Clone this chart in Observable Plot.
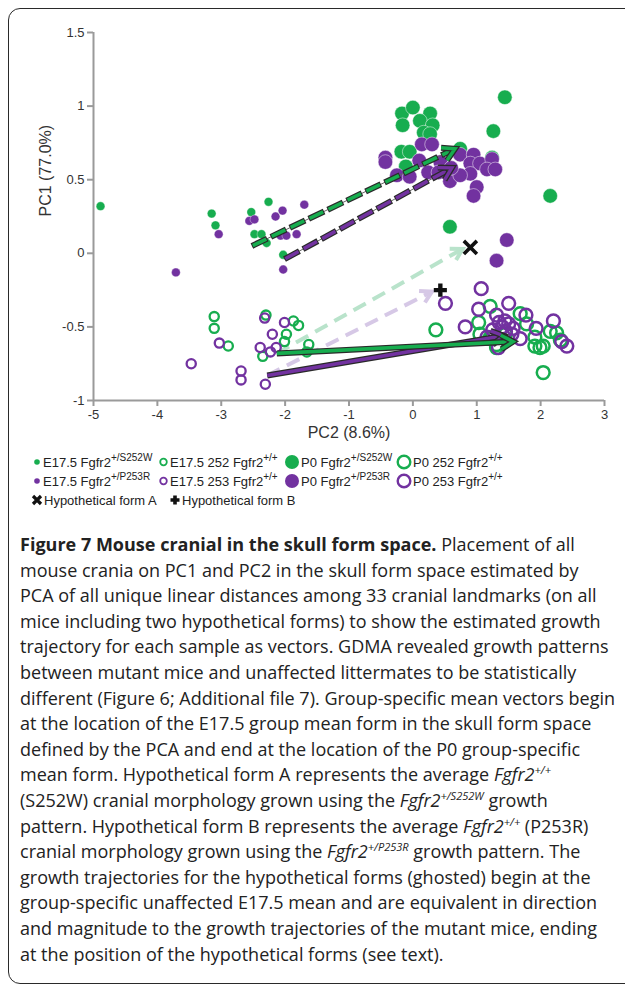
<!DOCTYPE html>
<html><head><meta charset="utf-8">
<script src="https://cdn.jsdelivr.net/npm/d3@7"></script>
<script src="https://cdn.jsdelivr.net/npm/@observablehq/plot@0.6"></script>
<style>
html,body{margin:0;padding:0;background:#fff;width:625px;height:987px;overflow:hidden;position:relative;}
#frame{position:absolute;left:8px;top:8px;width:680px;height:976px;border:1.6px solid #2a2a2a;border-radius:12px;box-sizing:border-box;}
#chart{position:absolute;left:0;top:0;}
#legend{position:absolute;left:0;top:0;font-family:"Liberation Sans",Arial,sans-serif;font-size:13px;color:#222;}
.item{position:absolute;white-space:nowrap;display:flex;align-items:center;height:18px;}
.item sup{font-size:10px;vertical-align:6px;line-height:0;}
.item svg{margin-right:1px;overflow:visible;}
#caption{position:absolute;left:20px;top:532px;font-family:"Open Sans",sans-serif;font-size:18px;line-height:25.6px;color:#222;white-space:nowrap;}
#caption sup{font-size:11px;vertical-align:7px;line-height:0;}
</style></head>
<body>
<div id="frame"></div>
<div id="chart"></div>
<div id="legend"></div>
<div id="caption"></div>
<script>
// ---------------- data ----------------
const xTicks = [-5, -4, -3, -2, -1, 0, 1, 2, 3];
const yTicks = [-1, -0.5, 0, 0.5, 1, 1.5];
const xLabel = "PC2 (8.6%)";
const yLabel = "PC1 (77.0%)";

// E17.5 Fgfr2 +/S252W (small filled green)
const e175S252W_x = [-4.89, -3.15, -3.09, -2.53, -2.26, -2.48, -2.37, -2.29, -2.03];
const e175S252W_y = [0.32, 0.27, 0.19, 0.28, 0.35, 0.13, 0.13, 0.07, -0.01];
// E17.5 Fgfr2 +/P253R (small filled purple)
const e175P253R_x = [-3.04, -2.56, -2.48, -2.04, -2.15, -1.70, -2.07, -1.98, -1.82, -3.71, -2.03];
const e175P253R_y = [0.13, 0.22, 0.23, 0.29, 0.25, 0.33, 0.12, 0.12, 0.13, -0.13, -0.11];
// E17.5 252 Fgfr2 +/+ (small open green)
const e175wt252_x = [-3.11, -3.11, -2.89, -2.30, -1.87, -1.79, -1.98, -2.01, -2.35, -1.63, -1.66];
const e175wt252_y = [-0.43, -0.51, -0.63, -0.42, -0.46, -0.49, -0.55, -0.60, -0.70, -0.62, -0.67];
// E17.5 253 Fgfr2 +/+ (small open purple)
const e175wt253_x = [-3.03, -3.47, -2.69, -2.69, -2.32, -2.01, -2.20, -2.39, -2.23, -2.14, -2.31];
const e175wt253_y = [-0.61, -0.75, -0.80, -0.86, -0.44, -0.47, -0.55, -0.64, -0.67, -0.64, -0.89];
// P0 Fgfr2 +/S252W (large filled green)
const p0S252W_x = [-0.17, 0.0, 0.27, 0.11, -0.16, 0.31, 0.17, 0.27, -0.18, -0.05, -0.11, 0.74, 1.24, 1.26, 1.44, 2.15, 0.58];
const p0S252W_y = [0.95, 0.99, 0.95, 0.90, 0.87, 0.87, 0.82, 0.81, 0.69, 0.69, 0.59, 0.71, 0.65, 0.83, 1.06, 0.39, 0.18];
// P0 Fgfr2 +/P253R (large filled purple)
const p0P253R_x = [-0.43, -0.43, 0.14, 0.30, 0.10, 0.43, -0.25, -0.05, 0.24, 0.58, 0.74, 0.95, 0.90, 1.05, 1.24, 1.16, 0.90, 1.00, 0.74, 0.95, 1.29, 0.40, 0.60, 1.47, 1.31];
const p0P253R_y = [0.65, 0.62, 0.74, 0.74, 0.63, 0.62, 0.53, 0.52, 0.55, 0.49, 0.67, 0.67, 0.61, 0.61, 0.64, 0.57, 0.54, 0.45, 0.53, 0.39, 0.57, 0.55, 0.58, 0.09, -0.05];
// P0 252 Fgfr2 +/+ (large open green)
const p0wt252_x = [0.36, 1.21, 1.03, 1.05, 1.31, 1.68, 1.78, 1.91, 2.04, 2.25, 2.31, 2.04, 1.91, 2.15, 1.31, 1.45, 1.20, 1.99];
const p0wt252_y = [-0.52, -0.36, -0.47, -0.55, -0.62, -0.41, -0.48, -0.57, -0.63, -0.54, -0.59, -0.81, -0.63, -0.53, -0.64, -0.55, -0.58, -0.64];
// P0 253 Fgfr2 +/+ (large open purple)
const p0wt253_x = [1.07, 0.51, 0.82, 1.03, 1.50, 1.77, 1.93, 2.20, 2.33, 2.41, 1.31, 1.44, 1.57, 1.68, 1.34, 1.16, 1.40, 1.50, 1.35, 1.45, 1.55, 1.25];
const p0wt253_y = [-0.24, -0.34, -0.50, -0.38, -0.34, -0.42, -0.51, -0.46, -0.60, -0.63, -0.42, -0.46, -0.51, -0.58, -0.64, -0.57, -0.50, -0.48, -0.47, -0.53, -0.55, -0.52];
// Hypothetical forms
const hypA_x = [0.90], hypA_y = [0.04];
const hypB_x = [0.43], hypB_y = [-0.25];

// Mean growth vectors: [S252W mutant, P253R mutant, 252 +/+, 253 +/+, ghost A, ghost B]
const vecName = ["S252W", "P253R", "wt252", "wt253", "ghostA", "ghostB"];
const vecX1 = [-2.52, -2.01, -2.13, -2.28, -2.13, -2.28];
const vecY1 = [0.05, -0.04, -0.68, -0.83, -0.68, -0.83];
const vecX2 = [0.66, 0.61, 1.57, 1.42, 0.78, 0.30];
const vecY2 = [0.71, 0.58, -0.60, -0.56, 0.03, -0.26];

// Legend
const legendText = ["E17.5 Fgfr2", "E17.5 252 Fgfr2", "P0 Fgfr2", "P0 252 Fgfr2",
                    "E17.5 Fgfr2", "E17.5 253 Fgfr2", "P0 Fgfr2", "P0 253 Fgfr2",
                    "Hypothetical form A", "Hypothetical form B"];
const legendSup = ["+/S252W", "+/+", "+/S252W", "+/+", "+/P253R", "+/+", "+/P253R", "+/+", "", ""];

// ---------------- styles ----------------
const GREEN = "#17ad4f", PURPLE = "#7232a0";
const GHOST_G = "#b9e3cb", GHOST_P = "#d6c8e6";
const OUT = "#2a2a2a";
const W = 625, H = 447, ML = 93, MR = 21, MT = 32, MB = 47;
const xDomain = [-5, 3], yDomain = [-1, 1.5];
const sx = Plot.scale({x: {domain: xDomain, range: [ML, W - MR]}});
const sy = Plot.scale({y: {domain: yDomain, range: [H - MB, MT]}});

const pts = (xs, ys) => xs.map((x, i) => ({x, y: ys[i]}));
const vecs = vecName.map((n, i) => ({n, x1: vecX1[i], y1: vecY1[i], x2: vecX2[i], y2: vecY2[i]}));
const V = n => vecs.filter(d => d.n === n);
// screen-space heading of each vector (degrees clockwise from north)
const heading = d => Math.atan2(sx.apply(d.x2) - sx.apply(d.x1), -(sy.apply(d.y2) - sy.apply(d.y1))) * 180 / Math.PI;
const chevron = (len) => ({
  draw(ctx) {
    const w = len * Math.sin(Math.PI / 6), h = len * Math.cos(Math.PI / 6);
    ctx.moveTo(-w, h); ctx.lineTo(0, 0); ctx.lineTo(w, h);
  }
});
const fmt = d => String(d);
const seg = {x1: "x1", y1: "y1", x2: "x2", y2: "y2"};
const headMark = (n, stroke, sw, len) =>
  Plot.vector(V(n), {x: "x2", y: "y2", rotate: heading, length: 10, anchor: "start", shape: chevron(len),
    stroke, strokeWidth: sw, strokeLinejoin: "miter", strokeLinecap: "butt", strokeMiterlimit: 4});

function dashedOutlined(n, color) {
  return [
    Plot.link(V(n), {...seg, stroke: "#666", strokeWidth: 1}),
    Plot.link(V(n), {...seg, stroke: OUT, strokeWidth: 6, strokeDasharray: "17,4"}),
    Plot.link(V(n), {...seg, stroke: color, strokeWidth: 3.6, strokeDasharray: "15,6", strokeDashoffset: -1}),
    headMark(n, OUT, 6, 14),
    headMark(n, color, 3.4, 14)
  ];
}
function solidOutlined(n, color) {
  return [
    Plot.link(V(n), {...seg, stroke: OUT, strokeWidth: 6}),
    Plot.link(V(n), {...seg, stroke: color, strokeWidth: 3.6}),
    headMark(n, OUT, 6, 14),
    headMark(n, color, 3.4, 14)
  ];
}
function ghost(n, color) {
  return [
    Plot.link(V(n), {...seg, stroke: color, strokeWidth: 4, strokeDasharray: "14,8"}),
    headMark(n, color, 4, 13)
  ];
}

const chart = Plot.plot({
  width: W, height: H,
  marginLeft: ML, marginRight: MR, marginTop: MT, marginBottom: MB,
  x: {domain: xDomain},
  y: {domain: yDomain},
  style: {fontFamily: "'Liberation Sans', Arial, sans-serif", fontSize: "13px", background: "transparent"},
  marks: [
    Plot.axisX({ticks: xTicks, tickFormat: fmt, tickSize: 6, tickPadding: 3, stroke: "#9a9a9a", strokeWidth: 2, fill: "#333", label: null}),
    Plot.axisY({ticks: yTicks, tickFormat: fmt, tickSize: 6, tickPadding: 3, stroke: "#9a9a9a", strokeWidth: 2, fill: "#333", label: null}),
    Plot.ruleY([-1], {stroke: "#9a9a9a", strokeWidth: 2}),
    Plot.ruleX([-5], {stroke: "#9a9a9a", strokeWidth: 2}),
    Plot.text([xLabel], {text: d => d, frameAnchor: "bottom", dy: 37, fontSize: 16, fill: "#333"}),
    Plot.text([yLabel], {text: d => d, frameAnchor: "left", dx: -48, rotate: -90, fontSize: 16, fill: "#333"}),

    ...ghost("ghostA", GHOST_G),
    ...ghost("ghostB", GHOST_P),

    Plot.dot(pts(e175wt252_x, e175wt252_y), {x: "x", y: "y", r: 4.6, stroke: GREEN, strokeWidth: 2.3, fill: "none"}),
    Plot.dot(pts(e175wt253_x, e175wt253_y), {x: "x", y: "y", r: 4.6, stroke: PURPLE, strokeWidth: 2.3, fill: "none"}),
    Plot.dot(pts(p0wt252_x, p0wt252_y), {x: "x", y: "y", r: 6.4, stroke: GREEN, strokeWidth: 2.5, fill: "none"}),
    Plot.dot(pts(p0wt253_x, p0wt253_y), {x: "x", y: "y", r: 6.4, stroke: PURPLE, strokeWidth: 2.5, fill: "none"}),
    Plot.dot(pts(e175S252W_x, e175S252W_y), {x: "x", y: "y", r: 4.4, fill: GREEN, stroke: "white", strokeWidth: 0.6, strokeOpacity: 0.6}),
    Plot.dot(pts(e175P253R_x, e175P253R_y), {x: "x", y: "y", r: 4.4, fill: PURPLE, stroke: "white", strokeWidth: 0.6, strokeOpacity: 0.6}),
    Plot.dot(pts(p0S252W_x, p0S252W_y), {x: "x", y: "y", r: 7.3, fill: GREEN, stroke: "white", strokeWidth: 0.8, strokeOpacity: 0.6}),
    Plot.dot(pts(p0P253R_x, p0P253R_y), {x: "x", y: "y", r: 7.3, fill: PURPLE, stroke: "white", strokeWidth: 0.8, strokeOpacity: 0.6}),

    ...solidOutlined("wt253", PURPLE),
    ...solidOutlined("wt252", GREEN),
    ...dashedOutlined("P253R", PURPLE),
    ...dashedOutlined("S252W", GREEN),

    Plot.dot(pts(hypA_x, hypA_y), {x: "x", y: "y", symbol: "times", r: 6, stroke: "#111", strokeWidth: 3.6}),
    Plot.dot(pts(hypB_x, hypB_y), {x: "x", y: "y", symbol: "cross", r: 5.5, fill: "#111"})
  ]
});
document.getElementById("chart").appendChild(chart);

// ---------------- legend ----------------
const symbols = [
  `<svg width="9" height="10"><circle cx="4" cy="5" r="2.8" fill="${GREEN}"/></svg>`,
  `<svg width="10" height="10"><circle cx="4.5" cy="5" r="3.3" fill="none" stroke="${GREEN}" stroke-width="1.8"/></svg>`,
  `<svg width="16" height="16"><circle cx="8" cy="8" r="7" fill="${GREEN}"/></svg>`,
  `<svg width="16" height="16"><circle cx="8" cy="8" r="6.3" fill="none" stroke="${GREEN}" stroke-width="2.4"/></svg>`,
  `<svg width="9" height="10"><circle cx="4" cy="5" r="2.8" fill="${PURPLE}"/></svg>`,
  `<svg width="10" height="10"><circle cx="4.5" cy="5" r="3.3" fill="none" stroke="${PURPLE}" stroke-width="1.8"/></svg>`,
  `<svg width="16" height="16"><circle cx="8" cy="8" r="7" fill="${PURPLE}"/></svg>`,
  `<svg width="16" height="16"><circle cx="8" cy="8" r="6.3" fill="none" stroke="${PURPLE}" stroke-width="2.4"/></svg>`,
  `<svg width="12" height="12"><path d="M2,2L10,10M10,2L2,10" stroke="#111" stroke-width="3.2"/></svg>`,
  `<svg width="12" height="12"><path d="M6,1.5V10.5M1.5,6H10.5" stroke="#111" stroke-width="3.6"/></svg>`
];
const itemLeft = [33, 159, 284, 396, 33, 159, 284, 396, 31, 169];
const itemTop = [453, 453, 453, 453, 472, 472, 472, 472, 491, 491];
const legend = document.getElementById("legend");
legendText.forEach((t, i) => {
  const el = document.createElement("div");
  el.className = "item";
  el.style.left = itemLeft[i] + "px";
  el.style.top = itemTop[i] + "px";
  el.innerHTML = symbols[i] + "<span>" + t + (legendSup[i] ? "<sup>" + legendSup[i] + "</sup>" : "") + "</span>";
  legend.appendChild(el);
});

// ---------------- caption ----------------
const captionLines = [
  "<b>Figure 7 Mouse cranial in the skull form space.</b> Placement of all",
  "mouse crania on PC1 and PC2 in the skull form space estimated by",
  "PCA of all unique linear distances among 33 cranial landmarks (on all",
  "mice including two hypothetical forms) to show the estimated growth",
  "trajectory for each sample as vectors. GDMA revealed growth patterns",
  "between mutant mice and unaffected littermates to be statistically",
  "different (Figure 6; Additional file 7). Group-specific mean vectors begin",
  "at the location of the E17.5 group mean form in the skull form space",
  "defined by the PCA and end at the location of the P0 group-specific",
  "mean form. Hypothetical form A represents the average <i>Fgfr2</i><sup><i>+/+</i></sup>",
  "(S252W) cranial morphology grown using the <i>Fgfr2<sup>+/S252W</sup></i> growth",
  "pattern. Hypothetical form B represents the average <i>Fgfr2<sup>+/+</sup></i> (P253R)",
  "cranial morphology grown using the <i>Fgfr2<sup>+/P253R</sup></i> growth pattern. The",
  "growth trajectories for the hypothetical forms (ghosted) begin at the",
  "group-specific unaffected E17.5 mean and are equivalent in direction",
  "and magnitude to the growth trajectories of the mutant mice, ending",
  "at the position of the hypothetical forms (see text)."
];
const cap = document.getElementById("caption");
cap.innerHTML = captionLines.map(l => "<span>" + l + "</span>").join("<br>");
// fit the widest line ("different ... begin") to the reference width
const probe = cap.querySelectorAll(":scope > span")[6];
const target = 595;
const w0 = probe.getBoundingClientRect().width;
const nChars = probe.textContent.length;
cap.style.letterSpacing = ((target - w0) / nChars).toFixed(3) + "px";
</script>
</body></html>
